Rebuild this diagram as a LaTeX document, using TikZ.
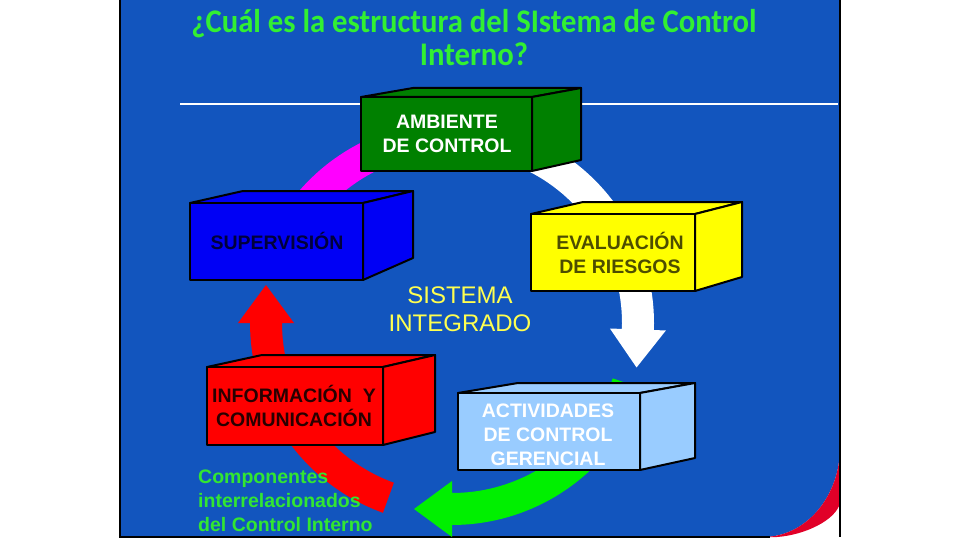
\documentclass[tikz,border=0pt]{standalone}
\usepackage{fontspec}
\setmainfont{Liberation Sans}
\newfontfamily\titlefont[FakeStretch=0.93]{Carlito}
\definecolor{bgblue}{RGB}{18,85,190}
\definecolor{titlegreen}{RGB}{50,240,50}
\definecolor{boxgreen}{RGB}{0,128,0}
\definecolor{boxblue}{RGB}{0,0,245}
\definecolor{boxyellow}{RGB}{255,255,0}
\definecolor{boxred}{RGB}{255,0,0}
\definecolor{boxlight}{RGB}{153,204,255}
\definecolor{arrmagenta}{RGB}{255,0,255}
\definecolor{arrgreen}{RGB}{0,240,0}
\definecolor{crescent}{RGB}{225,0,40}
\definecolor{navytext}{RGB}{0,0,60}
\definecolor{olivetext}{RGB}{77,77,0}
\definecolor{maroontext}{RGB}{40,0,0}
\definecolor{sysyellow}{RGB}{255,255,80}
\definecolor{compgreen}{RGB}{50,230,50}
% cycle arrow: colour, start angle, end angle (clockwise on screen)
\newcommand{\cyclearrow}[3]{%
  \fill[#1] plot[domain=#2:#3,samples=40] ({452+202*cos(\x)},{323+202*sin(\x)})
    -- ({452+214*cos(#3)},{323+214*sin(#3)})
    -- ({452+186*cos(#3)-38*sin(#3)},{323+186*sin(#3)+38*cos(#3)})
    -- ({452+158*cos(#3)},{323+158*sin(#3)})
    -- plot[domain=#3:#2,samples=40] ({452+170*cos(\x)},{323+170*sin(\x)}) -- cycle;}
% cuboid: colour, x1, y1, x2, y2 (front face), back-left x, back-right x, back top y, back bottom y
\newcommand{\cuboid}[9]{%
  \filldraw[boxline, fill=#1] (#2,#3) -- (#6,#8) -- (#7,#8) -- (#4,#3) -- cycle;
  \filldraw[boxline, fill=#1] (#4,#3) -- (#7,#8) -- (#7,#9) -- (#4,#5) -- cycle;
  \filldraw[boxline, fill=#1] (#2,#3) rectangle (#4,#5);}
\begin{document}
\begin{tikzpicture}[x=1pt,y=-1pt,
  boxline/.style={draw=black,line width=2pt,line join=round},
  boxtext/.style={font=\fontsize{19.5}{24}\selectfont\bfseries, align=center, inner sep=0pt},
  edge/.style={draw=black,line width=1.5pt}]
\useasboundingbox (0,0) rectangle (960,540);
\fill[white] (0,0) rectangle (960,540);
% slide background with rounded corner and red crescent
\fill[bgblue] (120,0) -- (840,0) -- (840,447) .. controls (840,497) and (805.5,537) .. (763,537) -- (120,537) -- cycle;
\fill[crescent] (840,447) .. controls (840,497) and (805.5,537) .. (763,537) -- (777,537)
  .. controls (805,535) and (836,520) .. (840,503) -- cycle;
\draw[edge] (120,0) -- (120,537) -- (770,537);
\draw[edge] (840,0) -- (840,537);
% title
\node[font=\titlefont\fontsize{33}{33}\selectfont\bfseries, text=titlegreen, align=center, inner sep=0pt] (title) at (474,38)
  {¿Cuál es la estructura del SIstema de Control\\Interno?};
\draw[white, line width=1.3pt] (180,104) -- (838,104);
% cycle arrows
\fill[arrmagenta] plot[domain=205:265,samples=30] ({452+202*cos(\x)},{323+202*sin(\x)})
  -- plot[domain=265:205,samples=30] ({452+170*cos(\x)},{323+170*sin(\x)}) -- cycle;
\cyclearrow{white}{285}{362}
\cyclearrow{arrgreen}{19}{90}
\cyclearrow{boxred}{110}{180}
% boxes
\cuboid{boxgreen}{361}{97}{532}{171}{413}{581}{88}{160}
\cuboid{boxblue}{190}{203}{363}{280}{243}{413}{191}{258}
\cuboid{boxyellow}{531}{214}{695}{291}{583}{742}{202}{277}
\cuboid{boxred}{207}{367}{383}{445}{262}{435}{355}{432}
\cuboid{boxlight}{458}{393}{640}{470}{518}{695}{383}{458}
% texts
\node[boxtext, text=white] (ambiente) at (447,134) {AMBIENTE\\DE CONTROL};
\node[boxtext, text=navytext] (supervision) at (277,241) {SUPERVISIÓN};
\node[boxtext, text=olivetext] (evaluacion) at (620,253) {EVALUACIÓN\\DE RIESGOS};
\node[font=\fontsize{24}{28}\selectfont, text=sysyellow, align=center, inner sep=0pt] (sistema) at (460,309) {SISTEMA\\INTEGRADO};
\node[boxtext, text=maroontext] (informacion) at (294,406) {INFORMACIÓN\ \ Y\\COMUNICACIÓN};
\node[boxtext, text=white] (actividades) at (548,435) {ACTIVIDADES\\DE CONTROL\\GERENCIAL};
\node[boxtext, text=compgreen, align=left, anchor=west] (componentes) at (198,501) {Componentes\\interrelacionados\\del Control Interno};
\end{tikzpicture}
\end{document}
